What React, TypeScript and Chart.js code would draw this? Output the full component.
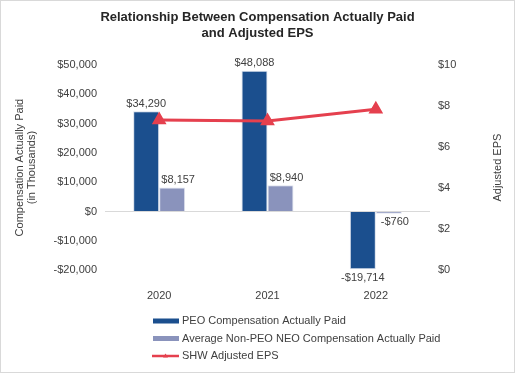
import React, { useEffect, useRef } from "react";
import { Chart, registerables } from "chart.js";

Chart.register(...registerables);

const categories = ["2020", "2021", "2022"];
const peoCap = [34290, 48088, -19714];
const neoCap = [8157, 8940, -760];
const adjustedEps = [7.32, 7.27, 7.85];

const titleLines = ["Relationship Between Compensation Actually Paid", "and Adjusted EPS"];
const leftAxisTitle = ["Compensation Actually Paid", "(in Thousands)"];
const rightAxisTitle = "Adjusted EPS";
const seriesNames = [
  "PEO Compensation Actually Paid",
  "Average Non-PEO NEO Compensation Actually Paid",
  "SHW Adjusted EPS",
];

const FONT = "'Liberation Sans', Arial, Helvetica, sans-serif";
const PEO_COLOR = "#1B4F8E";
const NEO_COLOR = "#8A93BC";
const EPS_COLOR = "#E5404E";
const TEXT = "#404040";

const money = (v: number) => (v < 0 ? "-$" : "$") + Math.abs(v).toLocaleString("en-US");

const extras = {
  id: "extras",
  beforeDraw(chart: any) {
    const ctx = chart.ctx;
    ctx.save();
    ctx.fillStyle = "#ffffff";
    ctx.fillRect(0, 0, chart.width, chart.height);
    ctx.restore();
  },
  afterDatasetsDraw(chart: any) {
    const ctx = chart.ctx;
    ctx.save();
    ctx.font = `11px ${FONT}`;
    ctx.fillStyle = TEXT;
    ctx.textAlign = "center";
    [0, 1].forEach((di) => {
      const meta = chart.getDatasetMeta(di);
      const data = chart.data.datasets[di].data as number[];
      meta.data.forEach((el: any, i: number) => {
        const v = data[i];
        const dx = di === 1 ? 6 : 0;
        if (v >= 0) {
          ctx.textBaseline = "bottom";
          ctx.fillText(money(v), el.x + dx, el.y - 2);
        } else {
          ctx.textBaseline = "top";
          ctx.fillText(money(v), el.x + dx, el.y + 3);
        }
      });
    });
    ctx.restore();
  },
  afterDraw(chart: any) {
    const ctx = chart.ctx;
    ctx.save();
    // right axis title
    const area = chart.chartArea;
    ctx.font = `11px ${FONT}`;
    ctx.fillStyle = TEXT;
    ctx.textAlign = "center";
    ctx.textBaseline = "middle";
    ctx.translate(498, (area.top + area.bottom) / 2);
    ctx.rotate(-Math.PI / 2);
    ctx.fillText(rightAxisTitle, 0, 0);
    ctx.restore();

    // legend
    ctx.save();
    const x0 = 153;
    const ys = [321, 338.5, 356];
    ctx.font = `11px ${FONT}`;
    ctx.textBaseline = "middle";
    ctx.textAlign = "left";
    chart.data.datasets.forEach((ds: any, i: number) => {
      const y = ys[i];
      if (ds.type === "line") {
        ctx.strokeStyle = ds.borderColor;
        ctx.lineWidth = 2.5;
        ctx.beginPath();
        ctx.moveTo(x0 - 1, y);
        ctx.lineTo(x0 + 26, y);
        ctx.stroke();
        ctx.fillStyle = ds.borderColor;
        ctx.beginPath();
        ctx.moveTo(x0 + 12.5, y - 2.5);
        ctx.lineTo(x0 + 15, y + 1.5);
        ctx.lineTo(x0 + 10, y + 1.5);
        ctx.closePath();
        ctx.fill();
      } else {
        ctx.fillStyle = ds.backgroundColor;
        ctx.fillRect(x0, y - 2.5, 26, 5);
      }
      ctx.fillStyle = TEXT;
      ctx.fillText(ds.label, x0 + 29, y);
    });
    ctx.restore();

    // frame
    ctx.save();
    ctx.strokeStyle = "#d9d9d9";
    ctx.lineWidth = 1;
    ctx.strokeRect(0.5, 0.5, chart.width - 1, chart.height - 1);
    ctx.restore();
  },
};

export default function App() {
  const ref = useRef<HTMLCanvasElement | null>(null);
  useEffect(() => {
    if (!ref.current) return;
    Chart.defaults.font.family = FONT;
    const chart = new Chart(ref.current, {
      type: "bar",
      data: {
        labels: categories,
        datasets: [
          {
            type: "bar",
            label: seriesNames[0],
            data: peoCap,
            backgroundColor: PEO_COLOR,
            borderColor: "#d6deea",
            borderWidth: 1,
            yAxisID: "y",
            order: 1,
            categoryPercentage: 0.48,
            barPercentage: 1,
          },
          {
            type: "bar",
            label: seriesNames[1],
            data: neoCap,
            backgroundColor: NEO_COLOR,
            borderColor: "#dfe2ee",
            borderWidth: 1,
            yAxisID: "y",
            order: 1,
            categoryPercentage: 0.48,
            barPercentage: 1,
          },
          {
            type: "line",
            label: seriesNames[2],
            data: adjustedEps,
            borderColor: EPS_COLOR,
            backgroundColor: EPS_COLOR,
            borderWidth: 3,
            pointStyle: "triangle",
            pointRadius: 5.5,
            pointBackgroundColor: EPS_COLOR,
            pointBorderColor: EPS_COLOR,
            yAxisID: "y1",
            order: 0,
            tension: 0,
          },
        ] as any,
      },
      options: {
        animation: false,
        responsive: false,
        layout: { padding: 0 },
        plugins: {
          legend: { display: false },
          tooltip: { enabled: false },
          title: {
            display: true,
            text: titleLines,
            color: "#262626",
            font: { size: 13, weight: "bold", family: FONT, lineHeight: 1.2 },
            padding: { top: 10, bottom: 24 },
          },
        },
        scales: {
          x: {
            grid: { display: false, drawTicks: false },
            border: { display: false },
            ticks: { color: TEXT, font: { size: 11 }, padding: 19 },
            afterFit(scale: any) {
              scale.height = 103;
            },
          },
          y: {
            position: "left",
            min: -20000,
            max: 50000,
            ticks: {
              stepSize: 10000,
              color: TEXT,
              font: { size: 11 },
              padding: 8,
              callback: (v: any) => money(Number(v)),
            },
            grid: {
              drawTicks: false,
              color: (c: any) => (c.tick && c.tick.value === 0 ? "#d9d9d9" : "rgba(0,0,0,0)"),
              lineWidth: 1,
            },
            border: { display: false },
            title: {
              display: true,
              text: leftAxisTitle,
              color: TEXT,
              font: { size: 11, lineHeight: 1.1 },
              padding: { top: 14, bottom: 0 },
            },
            afterFit(scale: any) {
              scale.width = 105;
            },
          },
          y1: {
            position: "right",
            min: 0,
            max: 10,
            ticks: {
              stepSize: 2,
              color: TEXT,
              font: { size: 11 },
              padding: 8,
              callback: (v: any) => "$" + Number(v),
            },
            grid: { display: false, drawTicks: false },
            border: { display: false },
            afterFit(scale: any) {
              scale.width = 85;
            },
          },
        },
      } as any,
      plugins: [extras],
    });
    return () => chart.destroy();
  }, []);
  return (
    <div style={{ position: "absolute", left: 0, top: 0, width: 515, height: 373 }}>
      <canvas ref={ref} width={515} height={373} style={{ width: 515, height: 373, display: "block" }} />
    </div>
  );
}
